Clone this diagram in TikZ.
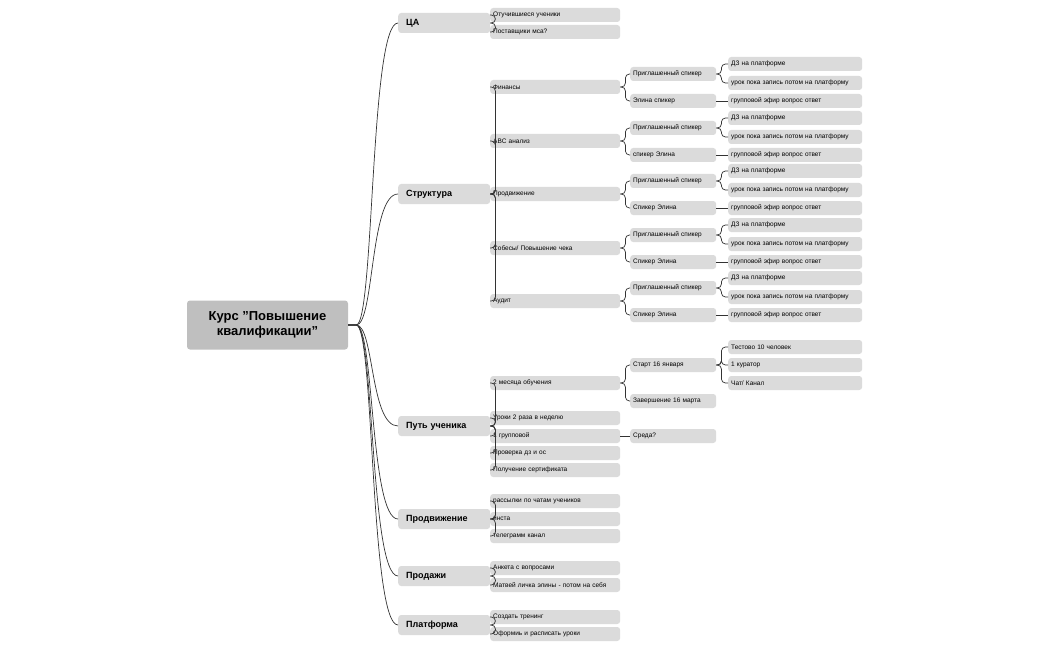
\documentclass[tikz,border=0pt]{standalone}
\usepackage{fontspec}
\setmainfont{Liberation Sans}
\usetikzlibrary{positioning}

\tikzset{
  box/.style={rounded corners=3pt, fill=gray!28, anchor=west, inner sep=3pt, align=left, font=\fontsize{6.5}{7}\selectfont},
  topic/.style={box, fill=gray!28, text width=76pt, minimum height=20pt, inner xsep=8pt, font=\fontsize{9}{10}\selectfont\bfseries},
  sub/.style={box, text width=124pt, minimum height=14pt},
  mid/.style={box, text width=80pt, minimum height=14pt},
  leaf/.style={box, text width=128pt, minimum height=14pt},
  link/.style={draw=black!80, line width=0.7pt, rounded corners=4pt},
}

\begin{document}
\begin{tikzpicture}[x=1pt,y=-1pt]
\useasboundingbox (0,0) rectangle (1050,650);

% Root
\node[rounded corners=3pt, fill=gray!50, minimum width=161pt, minimum height=49pt, align=center,
      font=\fontsize{13}{15}\selectfont\bfseries] (root) at (267.5,325) {Курс "Повышение\\квалификации"};

% Main topics
\node[topic] (ca)   at (398,23)  {ЦА};
\node[topic] (str)  at (398,194) {Структура};
\node[topic] (put)  at (398,426) {Путь ученика};
\node[topic] (prom) at (398,519) {Продвижение};
\node[topic] (sale) at (398,576) {Продажи};
\node[topic] (plat) at (398,625) {Платформа};

\foreach \t in {ca,str,put,prom,sale,plat}
  \draw[link] (root.east) -- ++(4,0) .. controls +(22,0) and +(-28,0) .. (\t.west);

% ЦА
\node[sub] (ca1) at (490,15) {Отучившиеся ученики};
\node[sub] (ca2) at (490,32) {Поставщики мса?};
\foreach \c in {ca1,ca2} \draw[link] (ca.east) -- ++(5,0) |- (\c.west);

% Структура
\node[sub] (s1) at (490,87)  {Финансы};
\node[sub] (s2) at (490,141) {ABC анализ};
\node[sub] (s3) at (490,194) {Продвижение};
\node[sub] (s4) at (490,248) {Собесы/ Повышение чека};
\node[sub] (s5) at (490,301) {Аудит};
\foreach \c in {s1,s2,s3,s4,s5} \draw[link] (str.east) -- ++(5,0) |- (\c.west);

\foreach \i/\y/\el in {1/87/Элина спикер, 2/141/спикер Элина, 3/194/Спикер Элина, 4/248/Спикер Элина, 5/301/Спикер Элина}{
  \node[mid] (g\i) at (630,\y-13) {Приглашенный спикер};
  \node[mid] (e\i) at (630,\y+14) {\el};
  \node[leaf] (dz\i) at (728,\y-23) {ДЗ на платформе};
  \node[leaf] (ur\i) at (728,\y-4) {урок пока запись потом на платформу};
  \node[leaf] (ef\i) at (728,\y+14) {групповой эфир вопрос ответ};
  \foreach \c in {g\i,e\i} \draw[link] (s\i.east) -- ++(5,0) |- (\c.west);
  \foreach \c in {dz\i,ur\i} \draw[link] (g\i.east) -- ++(5,0) |- (\c.west);
  \draw[link] (e\i.east) -- (ef\i.west);
}

% Путь ученика
\node[sub] (p1) at (490,383) {2 месяца обучения};
\node[sub] (p2) at (490,418) {Уроки 2 раза в неделю};
\node[sub] (p3) at (490,436) {1 групповой};
\node[sub] (p4) at (490,453) {Проверка дз и ос};
\node[sub] (p5) at (490,470) {Получение сертификата};
\foreach \c in {p1,p2,p3,p4,p5} \draw[link] (put.east) -- ++(5,0) |- (\c.west);

\node[mid] (start) at (630,365) {Старт 16 января};
\node[mid] (end)   at (630,401) {Завершение 16 марта};
\node[mid] (sreda) at (630,436) {Среда?};
\foreach \c in {start,end} \draw[link] (p1.east) -- ++(5,0) |- (\c.west);
\draw[link] (p3.east) -- (sreda.west);

\node[leaf] (t1) at (728,347) {Тестово 10 человек};
\node[leaf] (t2) at (728,365) {1 куратор};
\node[leaf] (t3) at (728,383) {Чат/ Канал};
\foreach \c in {t1,t2,t3} \draw[link] (start.east) -- ++(5,0) |- (\c.west);

% Продвижение
\node[sub] (m1) at (490,501) {рассылки по чатам учеников};
\node[sub] (m2) at (490,519) {инста};
\node[sub] (m3) at (490,536) {телеграмм канал};
\foreach \c in {m1,m2,m3} \draw[link] (prom.east) -- ++(5,0) |- (\c.west);

% Продажи
\node[sub] (sl1) at (490,568) {Анкета с вопросами};
\node[sub] (sl2) at (490,585) {Матвей личка элины - потом на себя};
\foreach \c in {sl1,sl2} \draw[link] (sale.east) -- ++(5,0) |- (\c.west);

% Платформа
\node[sub] (pl1) at (490,617) {Создать тренинг};
\node[sub] (pl2) at (490,634) {Оформиь и расписать уроки};
\foreach \c in {pl1,pl2} \draw[link] (plat.east) -- ++(5,0) |- (\c.west);

\end{tikzpicture}
\end{document}
